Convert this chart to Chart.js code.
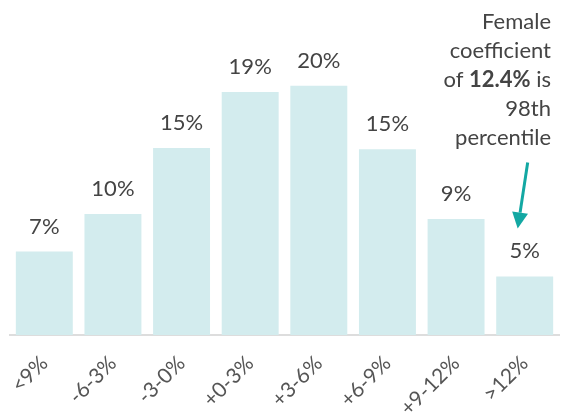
<!DOCTYPE html>
<html>
<head>
<meta charset="utf-8">
<script src="https://cdn.jsdelivr.net/npm/chart.js@4/dist/chart.umd.min.js"></script>
<style>
    html, body { margin: 0; padding: 0; background: #fff; }
    #wrap { width: 565px; height: 416px; position: relative; }
</style>
</head>
<body>
<div id="wrap"><canvas id="coeffChart"></canvas></div>
<script>
// Distribution of coefficients
const categories = ['<9%', '-6-3%', '-3-0%', '+0-3%', '+3-6%', '+6-9%', '+9-12%', '>12%'];
const shares = [6.7, 9.7, 15.0, 19.5, 20.0, 14.9, 9.3, 4.7];
const shareLabels = ['7%', '10%', '15%', '19%', '20%', '15%', '9%', '5%'];
const noteLines = [
    [{ text: 'Female', bold: false }],
    [{ text: 'coefficient', bold: false }],
    [{ text: 'of ', bold: false }, { text: '12.4%', bold: true }, { text: ' is', bold: false }],
    [{ text: '98th', bold: false }],
    [{ text: 'percentile', bold: false }]
];

const FONT = 'Lato, "Open Sans", sans-serif';

// value labels, note text and arrow
const annotations = {
    id: 'annotations',
    afterDatasetsDraw(chart) {
        const ctx = chart.ctx;
        const bars = chart.getDatasetMeta(0).data;
        ctx.save();
        ctx.fillStyle = '#444';
        ctx.font = '22px ' + FONT;
        ctx.textAlign = 'center';
        ctx.textBaseline = 'alphabetic';
        bars.forEach((bar, i) => {
            ctx.fillText(shareLabels[i], bar.x, bar.y - 18);
        });

        // note, right aligned
        const right = chart.chartArea.right - 8;
        noteLines.forEach((parts, i) => {
            const y = 29 + i * 29;
            let x = right;
            for (let j = parts.length - 1; j >= 0; j--) {
                const p = parts[j];
                ctx.font = (p.bold ? 'bold ' : '') + '22px ' + FONT;
                ctx.textAlign = 'right';
                ctx.fillText(p.text, x, y);
                x -= ctx.measureText(p.text).width;
            }
        });

        // arrow pointing at the last bar
        const last = bars[bars.length - 1];
        const x0 = last.x + 3, y0 = last.y - 114;
        const x1 = last.x - 7, y1 = last.y - 48;
        const ang = Math.atan2(y1 - y0, x1 - x0);
        const head = 16, half = 8;
        ctx.strokeStyle = '#13a8a3';
        ctx.fillStyle = '#13a8a3';
        ctx.lineWidth = 3;
        ctx.beginPath();
        ctx.moveTo(x0, y0);
        ctx.lineTo(x1 - Math.cos(ang) * head, y1 - Math.sin(ang) * head);
        ctx.stroke();
        const bx = x1 - Math.cos(ang) * head, by = y1 - Math.sin(ang) * head;
        ctx.beginPath();
        ctx.moveTo(x1, y1);
        ctx.lineTo(bx + Math.sin(ang) * half, by - Math.cos(ang) * half);
        ctx.lineTo(bx - Math.sin(ang) * half, by + Math.cos(ang) * half);
        ctx.closePath();
        ctx.fill();
        ctx.restore();
    }
};

const coeffCtx = document.getElementById('coeffChart').getContext('2d');
const coeffChart = new Chart(coeffCtx, {
    type: 'bar',
    data: {
        labels: categories,
        datasets: [{
            data: shares,
            backgroundColor: '#d3ecee',
            categoryPercentage: 1,
            barPercentage: 0.83
        }]
    },
    options: {
        responsive: true,
        maintainAspectRatio: false,
        animation: false,
        layout: {
            padding: { left: 10, right: 6, top: 11, bottom: 0 }
        },
        plugins: {
            legend: { display: false },
            tooltip: { enabled: false }
        },
        scales: {
            y: {
                display: false,
                min: 0,
                max: 26
            },
            x: {
                grid: { display: false },
                border: { color: '#dddddd', width: 2 },
                ticks: {
                    color: '#555',
                    font: { family: FONT, size: 21 },
                    minRotation: 45,
                    maxRotation: 45,
                    padding: 8
                },
                afterFit(scale) {
                    scale.height = 81;
                }
            }
        }
    },
    plugins: [annotations]
});
</script>
</body>
</html>
